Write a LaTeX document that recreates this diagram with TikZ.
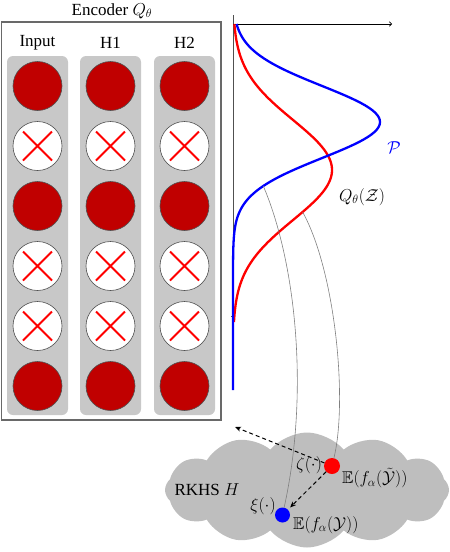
\documentclass[tikz,border=0pt]{standalone}
\usepackage{amsmath,amssymb}
\usepackage{fontspec}
\setmainfont{Liberation Serif}
\usetikzlibrary{shapes.symbols,arrows.meta}
\definecolor{colgray}{RGB}{200,200,200}
\definecolor{cloudgray}{RGB}{190,190,190}
\definecolor{darkred}{RGB}{192,0,0}
\definecolor{edgegray}{RGB}{80,80,80}
\definecolor{boxgray}{RGB}{105,105,105}
\begin{document}
\begin{tikzpicture}[x=1pt,y=-1pt,
  lbl/.style={font=\fontsize{17}{20}\selectfont, inner sep=0pt},
  smalllbl/.style={font=\fontsize{17}{20}\selectfont, inner sep=0pt},
  colbox/.style={fill=colgray, rounded corners=6pt},
  fullunit/.style={circle, fill=darkred, draw=edgegray, line width=0.6pt, minimum size=49pt, inner sep=0pt},
  dropunit/.style={circle, fill=white, draw=edgegray, line width=0.6pt, minimum size=49pt, inner sep=0pt,
    path picture={\draw[red, line width=2pt]
      (path picture bounding box.center) ++(-14.5,-14.5) -- ++(29,29)
      (path picture bounding box.center) ++(14.5,-14.5) -- ++(-29,29);}},
  linkline/.style={draw=gray, line width=0.6pt},
  dasharrow/.style={draw=black, line width=1pt, dash pattern=on 4pt off 3pt, -{Stealth[length=6pt,width=5pt]}},
  curveline/.style={line width=2.3pt}
]
\useasboundingbox (0,0) rectangle (450,552);

% encoder box
\node[lbl] (title) at (112,11) {Encoder $Q_\theta$};
\draw[boxgray, line width=1.5pt] (1.5,22) rectangle (221,420);
\fill[colbox] (7,56) rectangle (68,415);
\fill[colbox] (80,56) rectangle (141,415);
\fill[colbox] (154,56) rectangle (215,415);
\node[lbl] (linput) at (37.5,43) {Input};
\node[lbl] (lh1) at (110.5,43) {H1};
\node[lbl] (lh2) at (184.5,43) {H2};

\foreach \cx [count=\c] in {37.5,110.5,184.5}{
  \node[fullunit] (u-\c-1) at (\cx,86) {};
  \node[dropunit] (u-\c-2) at (\cx,146) {};
  \node[fullunit] (u-\c-3) at (\cx,206) {};
  \node[dropunit] (u-\c-4) at (\cx,266) {};
  \node[dropunit] (u-\c-5) at (\cx,326) {};
  \node[fullunit] (u-\c-6) at (\cx,386) {};
}

% cloud
\node[cloud, cloud puffs=12, cloud puff arc=100, cloud ignores aspect, fill=cloudgray, minimum width=284pt, minimum height=115pt, inner sep=0pt] (rkhs) at (307,490) {};
\node[lbl] (rkhslbl) at (207,490) {RKHS $H$};

% axes
\draw[edgegray, line width=0.8pt] (233,15) -- (233,390);
\draw[edgegray, line width=0.8pt] (231,316) -- (233,316);
\draw[black, line width=0.7pt, -{To[length=3pt,width=5pt]}] (233,24) -- (392,24);

% curves
\draw[red, curveline] plot[domain=24:322, samples=120, variable=\t] ({233+99*exp(-0.5*((\t-170)/50)^2)}, \t);
\draw[blue, curveline] plot[domain=24:390, samples=150, variable=\t] ({233+147*exp(-0.5*((\t-122)/36)^2)}, \t);
\node[lbl, text=blue] (plbl) at (394,148) {$\mathcal{P}$};
\node[smalllbl] (qlbl) at (362,197) {$Q_\theta(\mathcal{Z})$};

\coordinate (b1) at (263.3,186);
\coordinate (r1) at (302.6,212);
\coordinate (zend) at (235,427);

% dots
\node[circle, fill=red, minimum size=16pt, inner sep=0pt] (qdot) at (332,466) {};
\node[circle, fill=blue, minimum size=15pt, inner sep=0pt] (pdot) at (282.5,515) {};

% links
\draw[linkline] (b1) .. controls (295,260) and (310,390) .. (pdot);
\draw[linkline] (r1) .. controls (335,270) and (348,400) .. (qdot);
\draw[dasharrow] (qdot) -- (zend);
\draw[dasharrow, shorten >=3pt] (qdot) -- (pdot);

% labels
\node[smalllbl] (zlbl) at (309,465) {$\zeta(\cdot)$};
\node[smalllbl] (xlbl) at (263,506) {$\xi(\cdot)$};
\node[smalllbl, anchor=west] (eq) at (342,478) {$\mathbb{E}(f_\alpha(\tilde{\mathcal{Y}}))$};
\node[smalllbl, anchor=west] (ep) at (293,525) {$\mathbb{E}(f_\alpha(\mathcal{Y}))$};
\end{tikzpicture}
\end{document}
